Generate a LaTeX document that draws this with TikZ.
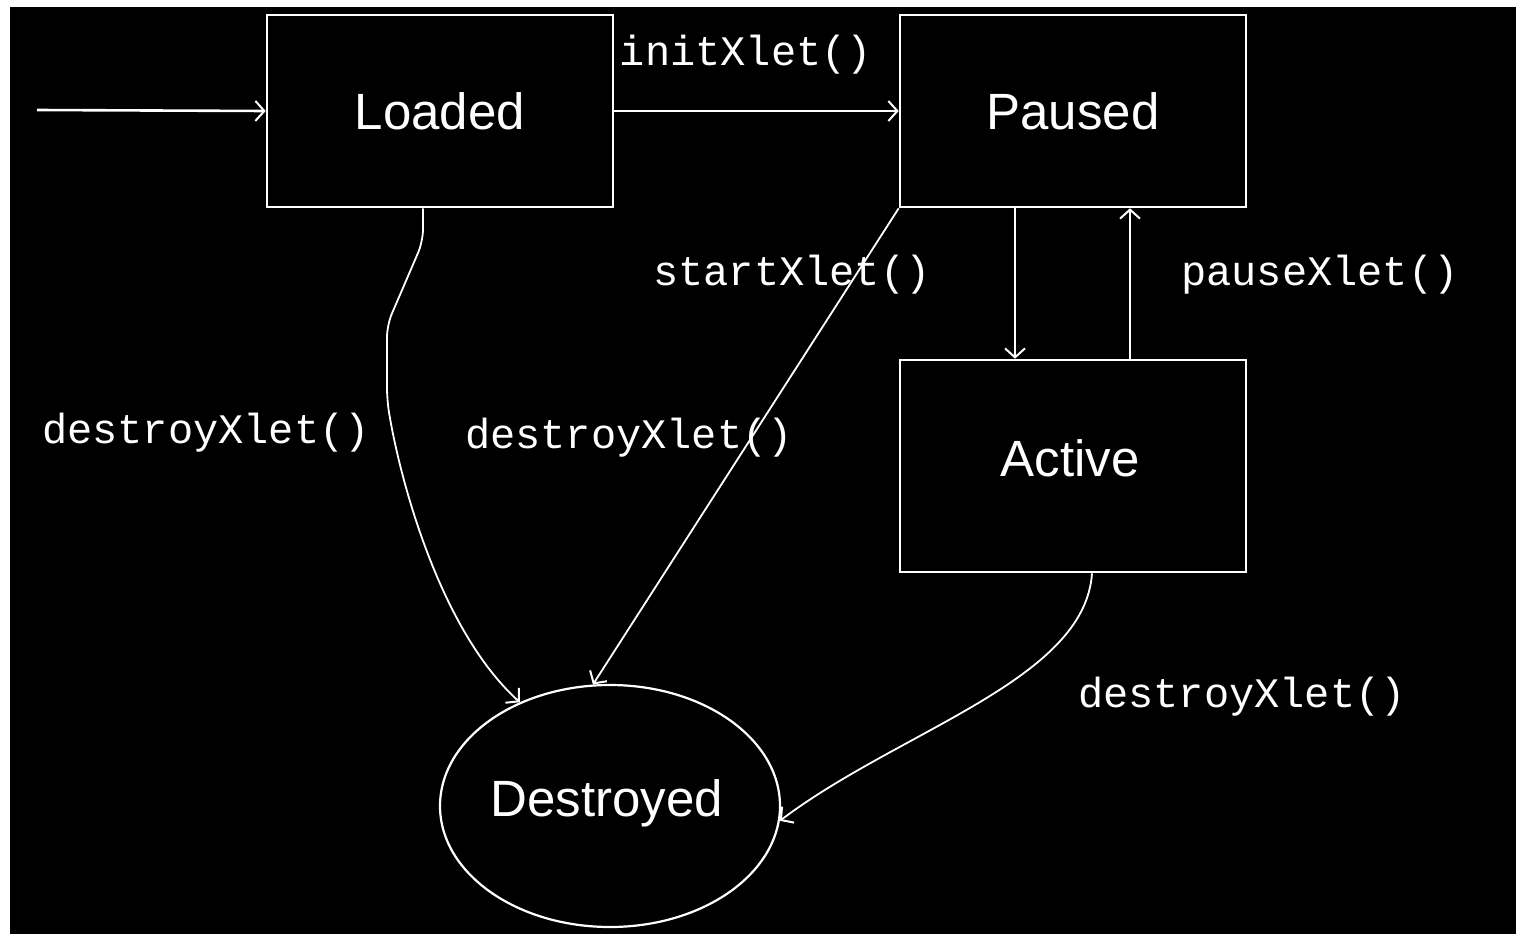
\documentclass[tikz,border=0pt]{standalone}
\usepackage{fontspec}
\setmainfont{Liberation Sans}
\newfontfamily\labfont{Liberation Mono}
\usetikzlibrary{arrows.meta,shapes.geometric,calc}
\begin{document}
\begin{tikzpicture}[x=1pt,y=-1pt,
  state/.style={draw=white,line width=2.6pt,minimum width=346pt,minimum height=192pt,inner sep=0pt,text=white,font=\fontsize{51}{55}\selectfont},
  endstate/.style={ellipse,draw=white,line width=2.2pt,minimum width=340pt,minimum height=242pt,inner sep=0pt,text=white,font=\fontsize{51}{55}\selectfont},
  lab/.style={text=white,font=\labfont\fontsize{42}{46}\selectfont,inner sep=0pt},
  conn/.style={draw=white,line width=2.6pt,-{Straight Barb[length=9pt,width=20pt,line width=2pt]}},
  thin/.style={draw=white,line width=1.8pt,-{Straight Barb[length=9pt,width=20pt,line width=2pt]}}]
\useasboundingbox (0,0) rectangle (1516,934);
\fill[white] (0,0) rectangle (1516,934);
\fill[black] (10,7) rectangle (1516,934);
\node[state] (L) at (440,111) {Loaded};
\node[state] (P) at (1073,111) {Paused};
\node[state,minimum height=212pt] (A) at (1073,466) {};
\node[text=white,font=\fontsize{51}{55}\selectfont] (At) at (1070,458) {Active};
\node[endstate] (D) at (610,806) {};
\node[text=white,font=\fontsize{51}{55}\selectfont] (Dt) at (607,803) {Destroyed};
\coordinate (start) at (37,110);
\draw[conn] (start) -- (L.west);
\draw[conn] (L.east) -- (P.west);
\draw[conn] ([xshift=-58pt]P.south) -- ([xshift=-58pt]A.north);
\draw[conn] ([xshift=57pt]A.north) -- ([xshift=57pt]P.south);
\draw[thin,rounded corners=12pt] ([xshift=-17pt]L.south) -- ++(0,33) -- (387,325) -- (387,400) .. controls (400,480) and (440,630) .. (D.131);
\draw[thin] (P.south west) -- (D.98);
\draw[thin] ([xshift=19pt]A.south) .. controls (1085,680) and (900,730) .. (D.-5);
\node[lab] (l1) at (746,55) {initXlet()};
\node[lab] (l2) at (792,275) {startXlet()};
\node[lab] (l3) at (1320,275) {pauseXlet()};
\node[lab] (l4) at (206,433) {destroyXlet()};
\node[lab] (l5) at (629,438) {destroyXlet()};
\node[lab] (l6) at (1242,697) {destroyXlet()};
\end{tikzpicture}
\end{document}
